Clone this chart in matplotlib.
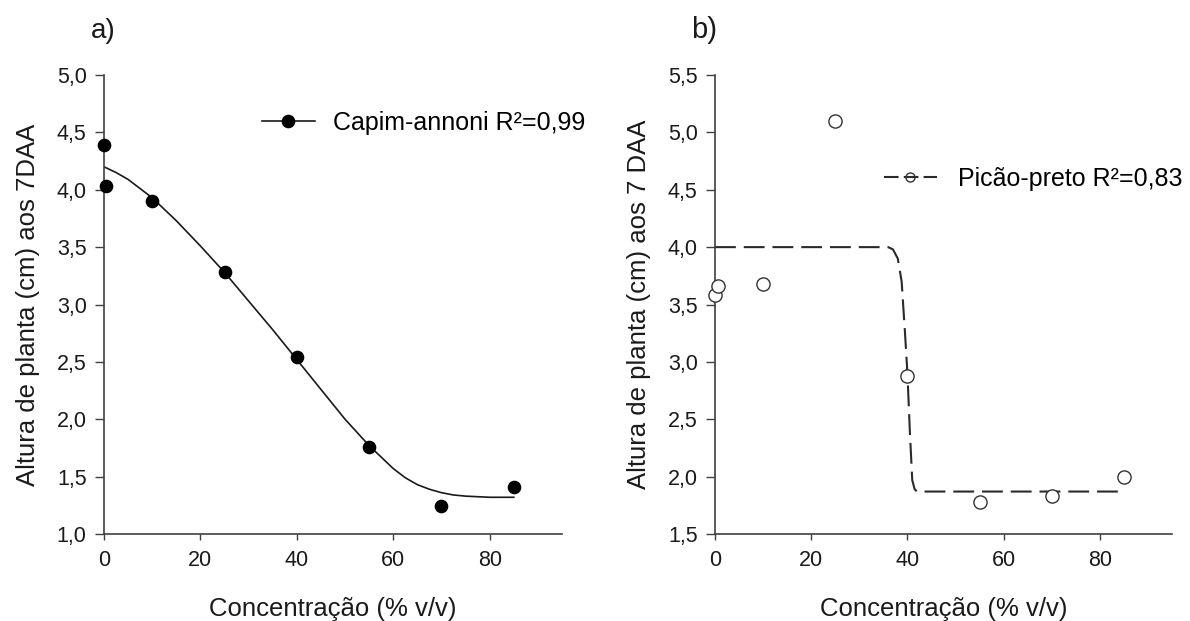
import matplotlib
matplotlib.use('Agg')
import matplotlib.pyplot as plt
from matplotlib.lines import Line2D

plt.rcParams['font.family'] = ['Liberation Sans', 'DejaVu Sans']

# a) Capim-annoni: concentração (% v/v) x altura (cm)
conc_a = [0, 0.5, 10, 25, 40, 55, 70, 85]
altura_a = [4.39, 4.03, 3.90, 3.28, 2.54, 1.76, 1.24, 1.41]
# curva ajustada
curva_a_x = [0, 2.5, 5, 7.5, 10, 15, 20, 25, 30, 35, 40, 45, 50, 55, 57.5, 60, 62.5, 65, 67.5, 70, 72.5, 75, 80, 85]
curva_a_y = [4.20, 4.15, 4.09, 4.01, 3.93, 3.73, 3.51, 3.28, 3.03, 2.78, 2.52, 2.26, 2.00, 1.77, 1.67, 1.57, 1.49, 1.43, 1.39, 1.36, 1.34, 1.33, 1.32, 1.32]

# b) Picão-preto
conc_b = [0, 0.6, 10, 25, 40, 55, 70, 85]
altura_b = [3.58, 3.66, 3.68, 5.10, 2.88, 1.78, 1.83, 2.00]
curva_b_x = [0, 36, 37, 38, 38.8, 39.5, 40, 40.5, 41, 41.5, 42, 85]
curva_b_y = [4.00, 4.00, 3.98, 3.90, 3.70, 3.25, 2.90, 2.40, 1.97, 1.89, 1.87, 1.87]

xticks = [0, 20, 40, 60, 80]
yticks_a = [1.0, 1.5, 2.0, 2.5, 3.0, 3.5, 4.0, 4.5, 5.0]
ylabels_a = ['1,0', '1,5', '2,0', '2,5', '3,0', '3,5', '4,0', '4,5', '5,0']
yticks_b = [1.5, 2.0, 2.5, 3.0, 3.5, 4.0, 4.5, 5.0, 5.5]
ylabels_b = ['1,5', '2,0', '2,5', '3,0', '3,5', '4,0', '4,5', '5,0', '5,5']

eixo = '#404040'
W, H = 1190, 621
fig = plt.figure(figsize=(W / 100, H / 100), dpi=100)

ax1 = fig.add_axes([104 / W, 1 - 534 / H, 458 / W, 459 / H])
ax2 = fig.add_axes([715 / W, 1 - 534 / H, 457 / W, 459 / H])


def estilo(ax, yticks, ylabels, ylim, ylabel):
    ax.set_xlim(0, 95)
    ax.set_ylim(*ylim)
    ax.set_xticks(xticks)
    ax.set_xticklabels([str(v) for v in xticks])
    ax.set_yticks(yticks)
    ax.set_yticklabels(ylabels)
    for s in ['top', 'right']:
        ax.spines[s].set_visible(False)
    for s in ['left', 'bottom']:
        ax.spines[s].set_color(eixo)
        ax.spines[s].set_linewidth(1.2)
    ax.tick_params(axis='x', length=4.5, width=1, color=eixo, pad=7, labelsize=15.5, labelcolor='#1a1a1a')
    ax.tick_params(axis='y', length=6.5, width=1, color=eixo, pad=6, labelsize=15.5, labelcolor='#1a1a1a')
    ax.set_xlabel('Concentração (% v/v)', fontsize=18.5, color='#1a1a1a', labelpad=19)
    ax.set_ylabel(ylabel, fontsize=18.5, color='#1a1a1a', labelpad=12)


# painel a
ax1.plot(curva_a_x, curva_a_y, color='#1a1a1a', lw=1.2, zorder=2)
ax1.plot(conc_a, altura_a, 'o', color='black', ms=8.8, zorder=3, clip_on=False)
estilo(ax1, yticks_a, ylabels_a, (1.0, 5.0), 'Altura de planta (cm) aos 7DAA')
h1 = Line2D([], [], color='#1a1a1a', lw=1.2, marker='o', ms=8.8, mfc='black', mec='black')
ax1.legend([h1], ['Capim-annoni R²=0,99'], loc='center left', bbox_to_anchor=(262 / W, 1 - 123 / H),
           bbox_transform=fig.transFigure, frameon=False, fontsize=18, handlelength=2.1,
           handletextpad=0.75, borderpad=0, borderaxespad=0)
fig.text(103 / W, 1 - 31 / H, 'a)', fontsize=20, ha='center', va='center', color='#1a1a1a')

# painel b
ax2.plot(curva_b_x, curva_b_y, color='#2a2a2a', lw=1.5, dashes=(10, 3.8), zorder=2)
ax2.plot(conc_b, altura_b, 'o', mfc='white', mec='#333333', mew=1.0, ms=9.5, zorder=3, clip_on=False)
estilo(ax2, yticks_b, ylabels_b, (1.5, 5.5), 'Altura de planta (cm) aos 7 DAA')
h2 = Line2D([], [], color='#2a2a2a', lw=1.5, dashes=(7, 2.5), marker='o', ms=6.5, mfc='none', mec='#333333', mew=1.0)
ax2.legend([h2], ['Picão-preto R²=0,83'], loc='center left', bbox_to_anchor=(884 / W, 1 - 179 / H),
           bbox_transform=fig.transFigure, frameon=False, fontsize=18, handlelength=2.1,
           handletextpad=0.85, borderpad=0, borderaxespad=0)
fig.text(704 / W, 1 - 30 / H, 'b)', fontsize=21, ha='center', va='center', color='#1a1a1a')

plt.savefig('out.png', dpi=100)
plt.close()
